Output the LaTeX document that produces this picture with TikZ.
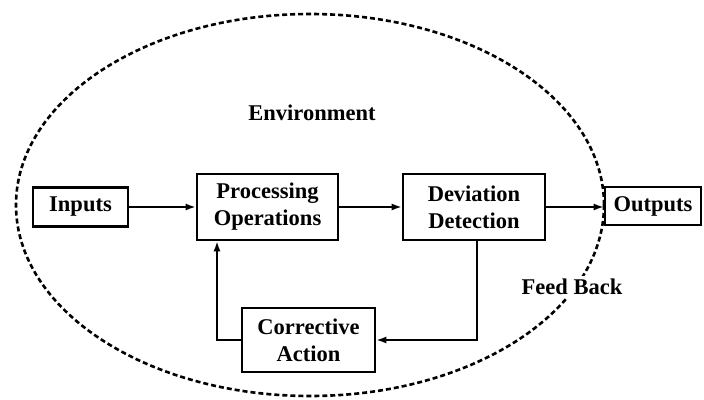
\documentclass[tikz,border=0pt]{standalone}
\usepackage{fontspec}
\setmainfont{Liberation Serif}
\usetikzlibrary{arrows.meta}
\begin{document}
\begin{tikzpicture}[x=1pt,y=-1pt,
  blockbox/.style={draw,line width=2.6pt,fill=white,align=center,inner sep=0pt,
    font=\fontsize{22.5}{27}\selectfont\bfseries},
  flow/.style={line width=1.8pt,-{Latex[length=10pt,width=7pt]}},
  lbl/.style={font=\fontsize{22.5}{27}\selectfont\bfseries}]
\useasboundingbox (0,0) rectangle (704,399);
% environment boundary
\draw[line width=2.6pt,dash pattern=on 5pt off 3pt] (310,205) ellipse [x radius=294,y radius=191];
\node[lbl] (env) at (312,113) {Environment};
\node[lbl,fill=white,inner sep=3pt] (fb) at (572,287) {Feed Back};
% blocks
\node[blockbox,minimum width=95,minimum height=39] (in) at (80.5,207) {Inputs};
\node[blockbox,minimum width=141,minimum height=66] (proc) at (267.5,207) {Processing\\Operations};
\node[blockbox,minimum width=142,minimum height=66] (dev) at (474,207) {Deviation\\Detection};
\node[blockbox,minimum width=96,minimum height=38] (out) at (653,206) {Outputs};
\node[blockbox,minimum width=133,minimum height=64] (corr) at (308.5,340) {Corrective\\Action};
% forward path
\draw[flow] (in) -- (proc);
\draw[flow] (proc) -- (dev);
\draw[flow] (dev.east) -- (dev.east -| out.west);
% feedback loop
\coordinate (devdown) at ([xshift=3pt]dev.south);
\coordinate (procup) at ([xshift=-50.5pt]proc.south);
\draw[flow] (devdown) |- (corr.east);
\draw[flow] (corr.west) -| (procup);
\end{tikzpicture}
\end{document}
